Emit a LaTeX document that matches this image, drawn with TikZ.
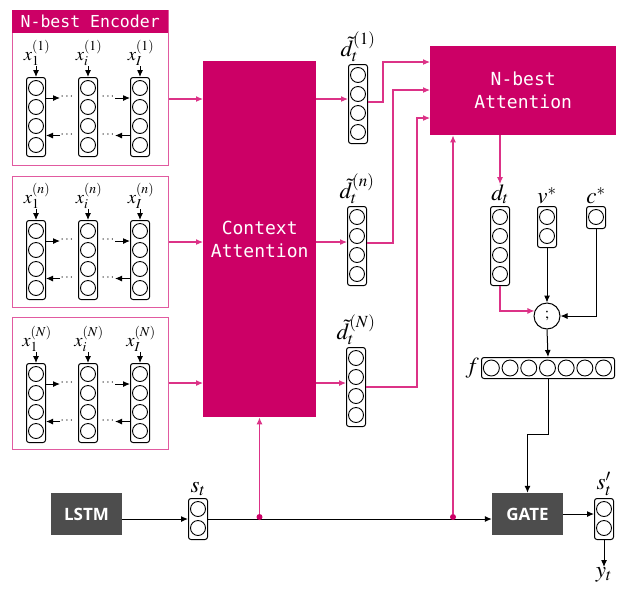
\documentclass[tikz,border=0pt]{standalone}
\usepackage{mathptmx}
\usepackage[no-math]{fontspec}
\newfontfamily\monof{DejaVu Sans Mono}
\newfontfamily\gsans{Open Sans}
\usetikzlibrary{arrows.meta,calc}
\definecolor{mag}{RGB}{204,0,102}
\definecolor{magline}{RGB}{220,50,135}
\definecolor{magbord}{RGB}{225,90,160}
\definecolor{darkbox}{RGB}{77,77,77}
\tikzset{
 vecbox/.style={draw=black, rounded corners=2.5pt, line width=1pt, inner sep=0pt, minimum width=19pt},
 unit/.style={draw=black, circle, line width=0.9pt, minimum size=15pt, inner sep=0pt},
 blk/.style={-{Latex[length=7pt,width=6pt]}, line width=1pt, black},
 mg/.style={-{Latex[length=7pt,width=6pt]}, line width=1.1pt, magline},
 encbox/.style={draw=magbord, line width=1.2pt, inner sep=0pt},
 magbox/.style={fill=mag, text=white, font=\monof\fontsize{18}{23}\selectfont, align=center, inner sep=0pt},
 graybox/.style={fill=darkbox, text=white, font=\gsans\bfseries\fontsize{17}{20}\selectfont, inner sep=0pt},
 lab/.style={inner sep=0pt, font=\fontsize{23}{26}\selectfont},
 xlab/.style={inner sep=0pt, font=\fontsize{18.5}{22}\selectfont},
 dotm/.style={circle, fill=mag, minimum size=6pt, inner sep=0pt},
 dts/.style={inner sep=0pt, font=\fontsize{12}{12}\selectfont}
}
% vertical vector: name, cx, ytop, ncells
\newcommand\vvec[4]{%
 \node[vecbox, minimum height={#4*19+3}, anchor=north] (#1) at (#2,#3) {};
 \foreach \k in {1,...,#4} \node[unit] at ($(#1.north)+(0,{1.5+19*\k-9.5})$) {};
}
% encoder columns: prefix, coltop, superscript
\newcommand\enccols[3]{%
 \vvec{#1a}{36}{#2}{4}
 \vvec{#1b}{88}{#2}{4}
 \vvec{#1c}{140}{#2}{4}
 \node[xlab, anchor=south] (#1la) at (37,#2-11) {$x_1^{(#3)}$};
 \node[xlab, anchor=south] (#1lb) at (89,#2-11) {$x_i^{(#3)}$};
 \node[xlab, anchor=south] (#1lc) at (141,#2-11) {$x_I^{(#3)}$};
 \draw[blk] (#1a.north |- #1la.south) -- (#1a.north);
 \draw[blk] (#1b.north |- #1lb.south) -- (#1b.north);
 \draw[blk] (#1c.north |- #1lc.south) -- (#1c.north);
 \coordinate (#1u1) at (60,#2+21);
 \coordinate (#1u2) at (115,#2+21);
 \coordinate (#1d1) at (60,#2+58.5);
 \coordinate (#1d2) at (115,#2+58.5);
 \draw[blk] (#1a.east |- #1u1) -- (#1u1);
 \draw[blk] (#1u2) -- (#1c.west |- #1u2);
 \draw[blk] (#1d1) -- (#1a.east |- #1d1);
 \draw[blk] (#1c.west |- #1d2) -- (#1d2);
 \node[dts] at (67,#2+20) {$\cdots$};
 \node[dts] at (108,#2+20) {$\cdots$};
 \node[dts] at (67,#2+57.5) {$\cdots$};
 \node[dts] at (108,#2+57.5) {$\cdots$};
}
\begin{document}
\begin{tikzpicture}[x=1pt,y=-1pt]
\useasboundingbox (0,0) rectangle (620,590);
% encoders
\node[encbox, minimum width=156, minimum height=155, anchor=north west] (enc1) at (12,10) {};
\node[fill=mag, text=white, inner sep=0pt, minimum width=156, minimum height=23, anchor=north west,
  font=\monof\fontsize{16.5}{18}\selectfont] (head) at (12,10) {N-best Encoder};
\enccols{ea}{77}{1}
\node[encbox, minimum width=156, minimum height=131, anchor=north west] (enc2) at (12,176) {};
\enccols{eb}{220}{n}
\node[encbox, minimum width=156, minimum height=132, anchor=north west] (enc3) at (12,317) {};
\enccols{ec}{363}{N}
% context attention
\node[magbox, minimum width=113, minimum height=356, anchor=north west] (ctx) at (203,61) {Context\\Attention};
\coordinate (r1) at (0,99);
\coordinate (r2) at (0,242);
\coordinate (r3) at (0,383);
\draw[mg] (enc1.east |- r1) -- (ctx.west |- r1);
\draw[mg] (enc2.east |- r2) -- (ctx.west |- r2);
\draw[mg] (enc3.east |- r3) -- (ctx.west |- r3);
% d tilde vectors
\vvec{dt1}{358}{64}{4}
\vvec{dt2}{357}{206}{4}
\vvec{dt3}{356}{347}{4}
\node[lab, anchor=south] at ($(dt1.north)+(0,-2)$) {$\tilde{d}_t^{(1)}$};
\node[lab, anchor=south] at ($(dt2.north)+(0,-2)$) {$\tilde{d}_t^{(n)}$};
\node[lab, anchor=south] at ($(dt3.north)+(0,-2)$) {$\tilde{d}_t^{(N)}$};
\draw[mg] (ctx.east |- r1) -- (dt1.west |- r1);
\draw[mg] (ctx.east |- r2) -- (dt2.west |- r2);
\draw[mg] (ctx.east |- r3) -- (dt3.west |- r3);
% N-best attention
\node[magbox, minimum width=186, minimum height=89, anchor=north west] (natt) at (430,46) {N-best\\Attention};
\draw[mg] (dt1.east |- 0,102) -- (383,102) |- (natt.west |- 0,62);
\draw[mg] (dt2.east |- 0,243) -- (393,243) |- (natt.west |- 0,90);
\draw[mg] (dt3.east |- 0,387) -- (417,387) |- (natt.west |- 0,118);
% right side vectors
\vvec{dvec}{500}{206}{4}
\vvec{vvecn}{547}{206}{2}
\vvec{cvec}{596}{206}{1}
\node[lab, anchor=south] (dlab) at ($(dvec.north)+(0,-2)$) {$d_t$};
\node[lab, anchor=south] at ($(vvecn.north)+(0,-2)$) {$v^{*}$};
\node[lab, anchor=south] at ($(cvec.north)+(0,-2)$) {$c^{*}$};
\draw[mg] (natt.south -| dvec) -- (dlab.north);
% concat
\node[draw=black, circle, line width=1pt, minimum size=26pt, inner sep=0pt, font=\fontsize{16}{16}\selectfont] (cat) at (547,316) {$;$};
\draw[mg] (dvec.south) |- (cat.158);
\draw[blk] (vvecn.south) -- (cat.north);
\draw[blk] (cvec.south) |- (cat.east);
% f vector
\node[vecbox, minimum width=133, minimum height=21] (fv) at (548,368) {};
\foreach \k in {1,...,7} \node[unit, minimum size=16pt] at ($(fv.west)+({1+18.7*\k-9.35},0)$) {};
\node[lab, anchor=east, inner sep=2pt] at (fv.west) {$f$};
\draw[blk] (cat.south) -- (fv.north);
% bottom row
\node[graybox, minimum width=71, minimum height=42] (lstm) at (86.5,514) {LSTM};
\node[graybox, minimum width=71, minimum height=42] (gate) at (527.5,514) {GATE};
\vvec{st}{198}{498}{2}
\node[lab, anchor=south] at ($(st.north)+(0,-2)$) {$s_t$};
\vvec{sp}{604}{498}{2}
\node[lab, anchor=south] at ($(sp.north)+(0,-2)$) {$s'_t$};
\draw[blk] (lstm.east |- st.west) -- (st.west);
\draw[blk] (fv.south) -- ++(0,55) -| (gate.north);
\draw[blk] (st.east) -- (gate.west |- st.east);
\node[dotm] (j1) at (259.5,517) {};
\node[dotm] (j2) at (453,517) {};
\draw[mg] (j1) -- (j1 |- ctx.south);
\draw[mg] (j2) -- (j2 |- natt.south);
\draw[blk] (gate.east) -- (gate.east -| sp.west);
\node[lab, anchor=north] (yt) at (604,567) {$y_t$};
\draw[blk] (sp.south) -- (yt.north);
\end{tikzpicture}
\end{document}
